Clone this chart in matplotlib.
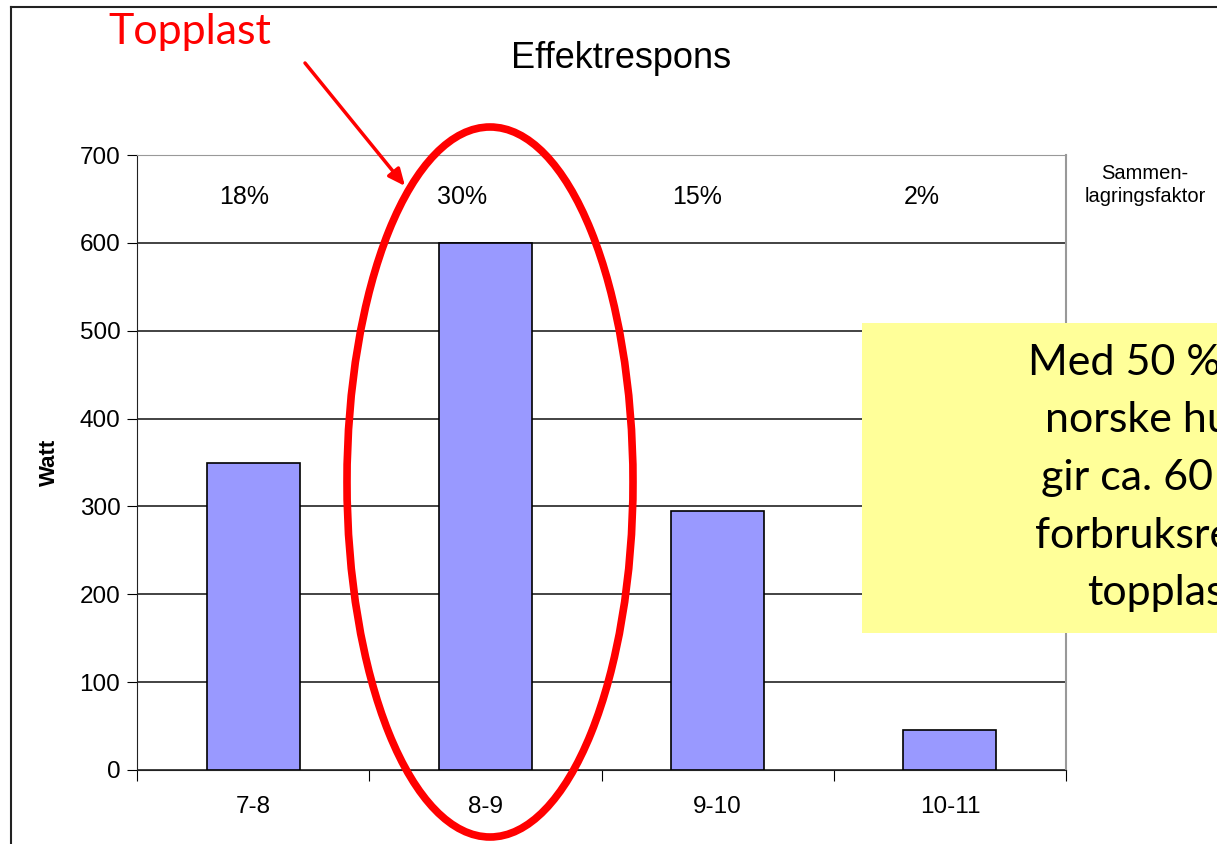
import matplotlib
matplotlib.use("Agg")
import matplotlib.pyplot as plt
from matplotlib.patches import Ellipse, Rectangle
from matplotlib.lines import Line2D

# data
hours = ["7-8", "8-9", "9-10", "10-11"]
watt = [350, 600, 295, 45]
factor = ["18%", "30%", "15%", "2%"]
factor_shift = [-0.04, -0.10, -0.09, -0.12]
box_lines = ["Med 50 %", "norske hu", "gir ca. 60", "forbruksre", "topplas"]
box_x = [1028, 1045, 1041, 1035, 1087]

W, H = 1217, 844
plt.rcParams['font.family'] = ['Liberation Sans', 'DejaVu Sans']

fig = plt.figure(figsize=(W / 100, H / 100), dpi=100)

def fx(px):
	return px / W

def fy(py):
	return 1 - py / H

ax = fig.add_axes([fx(137), fy(770), fx(1066) - fx(137), fy(155) - fy(770)])
x = list(range(len(hours)))
ax.bar(x, watt, width=0.4, color="#9999FF", edgecolor="black", linewidth=1.2, zorder=3)
ax.set_xlim(-0.5, len(hours) - 0.5)
ax.set_ylim(0, 700)
ax.set_yticks(range(0, 701, 100))
ax.tick_params(axis="y", labelsize=17.5, length=7, direction="out", pad=5)
ax.set_xticks([i - 0.5 for i in range(len(hours) + 1)])
ax.set_xticklabels([])
ax.tick_params(axis="x", length=8, direction="out")
for i, h in enumerate(hours):
	ax.text(i, -0.06, h, transform=ax.get_xaxis_transform(), ha="center", va="center", fontsize=17.5)
ax.yaxis.grid(True, color="#222222", linewidth=1.2, zorder=0)
ax.set_axisbelow(True)
ax.spines["top"].set_color("#999999")
ax.spines["right"].set_color("#999999")
ax.spines["right"].set_linewidth(1.5)
ax.spines["left"].set_color("#222222")
ax.spines["bottom"].set_color("#222222")
ax.set_ylabel("Watt", fontsize=16, fontweight="bold", labelpad=14)

for i, f in enumerate(factor):
	ax.text(i + factor_shift[i], 0.932, f, transform=ax.get_xaxis_transform(), ha="center", va="center", fontsize=18)

fig.text(fx(1145), fy(185), "Sammen-\nlagringsfaktor", ha="center", va="center", fontsize=14.5, linespacing=1.3)
fig.text(fx(621), fy(58), "Effektrespons", ha="center", va="center", fontsize=26)

# outer frame
fig.add_artist(Line2D([fx(11), fx(11)], [fy(7), 0], color="#222222", linewidth=1.5))
fig.add_artist(Line2D([fx(11), 1], [fy(7), fy(7)], color="#222222", linewidth=1.5))

# red annotation
fig.text(fx(108), fy(32), "Topplast", ha="left", va="center", fontsize=31, color="#ff0000", family=["Lato", "DejaVu Sans"])
fig.add_artist(Ellipse((fx(490), fy(482)), fx(286), 710 / H, transform=fig.transFigure, fill=False, edgecolor="#ff0000", linewidth=5.5, zorder=10))
ax.annotate("", xy=(fx(405), fy(186)), xytext=(fx(305), fy(63)), xycoords="figure fraction", textcoords="figure fraction",
	arrowprops=dict(arrowstyle="-|>,head_length=1.0,head_width=0.45", color="#ff0000", lw=2.5, shrinkA=0, shrinkB=0))

# yellow note box
fig.add_artist(Rectangle((fx(862), fy(633)), 1 - fx(862), fy(323) - fy(633), transform=fig.transFigure, facecolor="#ffff99", edgecolor="none", zorder=11))
for i, line in enumerate(box_lines):
	fig.text(fx(box_x[i]), fy(363 + 57.5 * i), line, ha="left", va="center", fontsize=31, color="black", family=["Lato", "DejaVu Sans"], zorder=12)

fig.savefig("out.png", dpi=100)
